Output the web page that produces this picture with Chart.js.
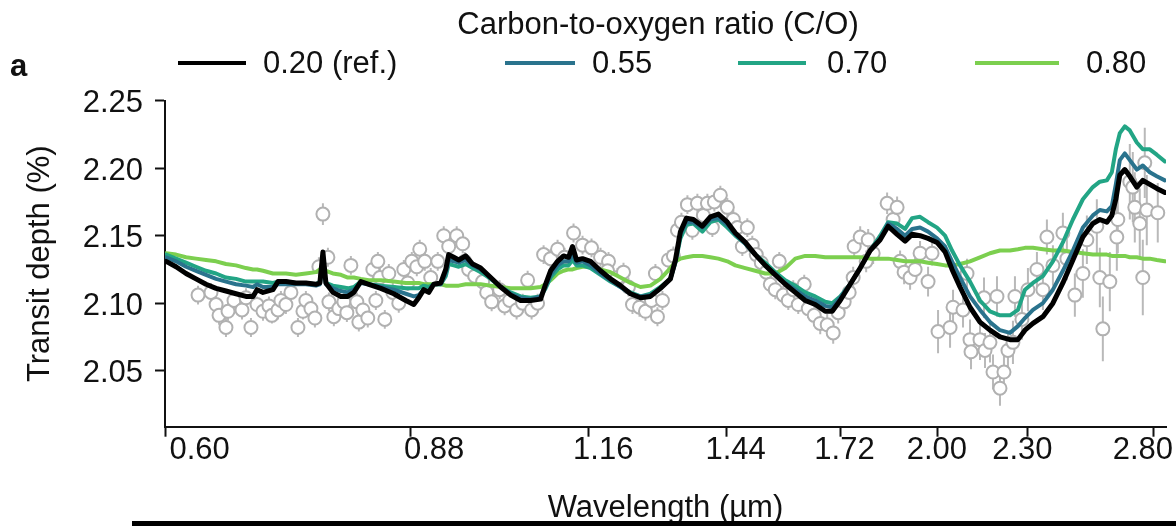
<!DOCTYPE html>
<html>
<head>
<meta charset="utf-8">
<script src="https://cdn.jsdelivr.net/npm/chart.js@4.4.1/dist/chart.umd.min.js"></script>
<style>
  body { margin: 0; background: #fff; font-family: "Liberation Sans", Arial, sans-serif; color: #111; }
  #wrap { position: relative; width: 1176px; height: 526px; overflow: hidden; }
  #myChart { position: absolute; left: 0; top: 0; }
  .legend-title { position: absolute; left: 448px; top: 8px; width: 420px; text-align: center; font-size: 31px; line-height: 31px; white-space: nowrap; }
  .legend-item { position: absolute; top: 47px; height: 31px; display: flex; align-items: center; font-size: 31px; line-height: 31px; white-space: nowrap; }
  .legend-line { display: inline-block; height: 4px; }
  .panel-label { position: absolute; left: 10px; top: 50px; font-size: 31px; line-height: 31px; font-weight: bold; }
  .bottom-bar { position: absolute; left: 132px; top: 521px; width: 1044px; height: 5px; background: #000; }
  .x-axis-line { position: absolute; background: #111; height: 2px; }
</style>
</head>
<body>
<div id="wrap">
  <canvas id="myChart" width="1176" height="526"></canvas>
  <div class="legend-title">Carbon-to-oxygen ratio (C/O)</div>
  <div id="legend"></div>
  <div class="panel-label">a</div>
  <div class="bottom-bar"></div>
</div>
<script>
// model wavelength grid (um), shared by the four C/O models
const modelWave = [
  0.6010, 0.6104, 0.6200, 0.6297, 0.6396, 0.6497, 0.6598, 0.6702, 0.6807,
  0.6882, 0.6925, 0.6990, 0.7099, 0.7155, 0.7244, 0.7358, 0.7473, 0.7591, 0.7638, 0.7674, 0.7710, 0.7794, 0.7892, 0.7978, 0.8053, 0.8141, 0.8243, 0.8399, 0.8570, 0.8732, 0.8841, 0.8910, 0.8980, 0.9050, 0.9121, 0.9221,
  0.9293, 0.9336, 0.9409, 0.9483, 0.9586, 0.9691, 0.9813, 0.9967, 1.0123, 1.0282, 1.0443, 1.0607, 1.0773, 1.0857, 1.0942, 1.1062, 1.1166, 1.1253, 1.1323, 1.1394, 1.1501, 1.1645, 1.1828,
  1.2013, 1.2202, 1.2393, 1.2587, 1.2785, 1.2985, 1.3189,
  1.3292, 1.3396, 1.3521, 1.3670, 1.3862, 1.4036, 1.4212, 1.4412, 1.4593,
  1.4822, 1.5054, 1.5290, 1.5530, 1.5774, 1.6021, 1.6272, 1.6527, 1.6787, 1.6971,
  1.7183, 1.7453, 1.7727, 1.8005, 1.8287, 1.8516, 1.8777, 1.9012, 1.9221, 1.9461,
  1.9705, 1.9983, 2.0234, 2.0455, 2.0711, 2.1036, 2.1366, 2.1701, 2.2042, 2.2387,
  2.2668, 2.2916, 2.3203, 2.3567, 2.3937, 2.4312, 2.4694, 2.5081, 2.5474, 2.5753,
  2.6036, 2.6239, 2.6403, 2.6568, 2.6775, 2.6984, 2.7280, 2.7536, 2.7837, 2.8142, 2.8500
];

// C/O = 0.20 (reference model)
const depthCO020 = [
  2.131, 2.127, 2.122, 2.118, 2.114, 2.111, 2.109, 2.107, 2.105,
  2.105, 2.110, 2.108, 2.110, 2.116, 2.116, 2.115, 2.115, 2.114, 2.115, 2.138, 2.115, 2.108, 2.105, 2.105, 2.108, 2.116, 2.114, 2.111, 2.107, 2.102, 2.099, 2.104, 2.110, 2.108, 2.114, 2.115,
  2.125, 2.136, 2.134, 2.132, 2.135, 2.129, 2.126, 2.119, 2.112, 2.106, 2.102, 2.102, 2.103, 2.114, 2.124, 2.131, 2.135, 2.134, 2.142, 2.132, 2.133, 2.131, 2.124,
  2.118, 2.113, 2.107, 2.104, 2.105, 2.111, 2.118,
  2.132, 2.153, 2.163, 2.162, 2.157, 2.164, 2.166, 2.160, 2.152,
  2.145, 2.136, 2.128, 2.121, 2.114, 2.108, 2.102, 2.099, 2.094, 2.094,
  2.102, 2.114, 2.126, 2.139, 2.147, 2.157, 2.151, 2.146, 2.151, 2.150,
  2.148, 2.145, 2.138, 2.125, 2.112, 2.097, 2.086, 2.080, 2.075, 2.073,
  2.073, 2.080, 2.085, 2.090, 2.100, 2.115, 2.132, 2.149, 2.159, 2.162,
  2.160, 2.165, 2.177, 2.195, 2.199, 2.194, 2.186, 2.191, 2.188, 2.185, 2.182
];

// C/O = 0.55
const depthCO055 = [
  2.134, 2.131, 2.127, 2.124, 2.121, 2.118, 2.116, 2.114, 2.113,
  2.112, 2.114, 2.112, 2.112, 2.114, 2.114, 2.114, 2.114, 2.113, 2.114, 2.131, 2.114, 2.111, 2.109, 2.108, 2.110, 2.115, 2.114, 2.112, 2.110, 2.107, 2.105, 2.106, 2.110, 2.109, 2.114, 2.114,
  2.122, 2.132, 2.131, 2.130, 2.132, 2.128, 2.125, 2.119, 2.112, 2.107, 2.104, 2.103, 2.105, 2.112, 2.121, 2.128, 2.131, 2.131, 2.136, 2.130, 2.131, 2.128, 2.122,
  2.117, 2.112, 2.107, 2.105, 2.106, 2.111, 2.118,
  2.131, 2.151, 2.160, 2.160, 2.156, 2.162, 2.163, 2.158, 2.151,
  2.144, 2.136, 2.128, 2.121, 2.115, 2.110, 2.105, 2.102, 2.098, 2.097,
  2.104, 2.114, 2.126, 2.139, 2.148, 2.159, 2.155, 2.150, 2.155, 2.156,
  2.153, 2.148, 2.142, 2.131, 2.119, 2.105, 2.095, 2.086, 2.080, 2.078,
  2.083, 2.089, 2.095, 2.100, 2.110, 2.124, 2.139, 2.156, 2.165, 2.169,
  2.168, 2.172, 2.188, 2.206, 2.211, 2.206, 2.199, 2.202, 2.197, 2.194, 2.191
];

// C/O = 0.70
const depthCO070 = [
  2.136, 2.133, 2.130, 2.127, 2.124, 2.122, 2.119, 2.118, 2.116,
  2.116, 2.116, 2.116, 2.115, 2.116, 2.116, 2.115, 2.115, 2.114, 2.116, 2.128, 2.115, 2.113, 2.112, 2.111, 2.112, 2.116, 2.114, 2.113, 2.112, 2.111, 2.111, 2.111, 2.113, 2.112, 2.114, 2.114,
  2.120, 2.129, 2.128, 2.127, 2.129, 2.126, 2.123, 2.118, 2.112, 2.108, 2.105, 2.104, 2.105, 2.111, 2.119, 2.125, 2.128, 2.128, 2.132, 2.128, 2.128, 2.126, 2.121,
  2.116, 2.112, 2.108, 2.105, 2.107, 2.112, 2.118,
  2.130, 2.148, 2.158, 2.159, 2.153, 2.160, 2.162, 2.156, 2.150,
  2.144, 2.136, 2.130, 2.123, 2.117, 2.113, 2.108, 2.105, 2.101, 2.100,
  2.105, 2.114, 2.126, 2.139, 2.150, 2.160, 2.159, 2.155, 2.163, 2.164,
  2.160, 2.156, 2.150, 2.139, 2.128, 2.116, 2.102, 2.094, 2.091, 2.091,
  2.095, 2.110, 2.115, 2.120, 2.131, 2.145, 2.162, 2.177, 2.186, 2.190,
  2.191, 2.197, 2.214, 2.226, 2.231, 2.228, 2.219, 2.214, 2.214, 2.210, 2.205
];

// C/O = 0.80
const depthCO080 = [
  2.137, 2.136, 2.134, 2.133, 2.132, 2.131, 2.129, 2.128, 2.126,
  2.125, 2.125, 2.124, 2.122, 2.122, 2.122, 2.121, 2.122, 2.123, 2.125, 2.125, 2.124, 2.122, 2.121, 2.119, 2.119, 2.118, 2.117, 2.117, 2.116, 2.115, 2.115, 2.115, 2.114, 2.114, 2.114, 2.114,
  2.113, 2.113, 2.113, 2.113, 2.114, 2.114, 2.114, 2.113, 2.112, 2.111, 2.111, 2.111, 2.112, 2.114, 2.117, 2.122, 2.124, 2.125, 2.125, 2.126, 2.127, 2.127, 2.125,
  2.123, 2.119, 2.115, 2.112, 2.113, 2.118, 2.126,
  2.131, 2.133, 2.134, 2.135, 2.135, 2.134, 2.133, 2.131, 2.128,
  2.126, 2.124, 2.122, 2.122, 2.126, 2.133, 2.135, 2.135, 2.134, 2.134,
  2.134, 2.134, 2.134, 2.133, 2.133, 2.133, 2.132, 2.131, 2.131, 2.131,
  2.130, 2.129, 2.128, 2.128, 2.129, 2.131, 2.134, 2.137, 2.139, 2.139,
  2.140, 2.141, 2.141, 2.140, 2.139, 2.139, 2.138, 2.137, 2.136, 2.136,
  2.136, 2.135, 2.135, 2.135, 2.135, 2.134, 2.134, 2.133, 2.133, 2.132, 2.131
];

// observed spectrum: wavelength (um), transit depth (%), 1-sigma error (%)
const obsWave = [
  0.6317, 0.6446, 0.6497, 0.6527, 0.6598, 0.6619, 0.6681, 0.6765, 0.6807, 0.6860,
  0.6925, 0.6990, 0.7055, 0.7088, 0.7155, 0.7188, 0.7244, 0.7301, 0.7381, 0.7439,
  0.7473, 0.7532, 0.7579, 0.7626, 0.7674, 0.7734, 0.7746, 0.7806, 0.7867, 0.7929,
  0.7966, 0.8016, 0.8091, 0.8116, 0.8167, 0.8230, 0.8295, 0.8334, 0.8360, 0.8386,
  0.8451, 0.8504, 0.8557, 0.8637, 0.8705, 0.8759, 0.8814, 0.8883, 0.8924, 0.8994,
  0.9078, 0.9178, 0.9264, 0.9336, 0.9453, 0.9542, 0.9572, 0.9631, 0.9722, 0.9843,
  0.9905, 0.9982, 1.0107, 1.0186, 1.0266, 1.0378, 1.0476, 1.0558, 1.0623, 1.0723,
  1.0824, 1.0942, 1.1062, 1.1183, 1.1341, 1.1501, 1.1663, 1.1828, 1.1976, 1.1957,
  1.2145, 1.2259, 1.2354, 1.2432, 1.2568, 1.2686, 1.2805, 1.2925, 1.2884, 1.3026,
  1.3148, 1.3251, 1.3333, 1.3417, 1.3543, 1.3648, 1.3755, 1.3884, 1.3971, 1.4080,
  1.4124, 1.4256, 1.4412, 1.4547, 1.4638, 1.4753, 1.4868, 1.4984, 1.5077, 1.5195,
  1.5314, 1.5410, 1.5530, 1.5627, 1.5725, 1.5848, 1.5971, 1.6096, 1.6247, 1.6349,
  1.6502, 1.6657, 1.6839, 1.6997, 1.7130, 1.7291, 1.7426, 1.7534, 1.7562, 1.7727,
  1.7893, 1.7949, 1.8089, 1.8487, 1.8661, 1.8777, 1.8865, 1.8983, 1.9161, 1.9311,
  1.9461, 1.9705, 1.9828, 2.0014, 2.0392, 2.0487, 2.0808, 2.0938, 2.1036, 2.1069,
  2.1366, 2.1500, 2.1533, 2.1701, 2.1803, 2.1939, 2.2042, 2.2179, 2.2318, 2.2492,
  2.2562, 2.2809, 2.3023, 2.3348, 2.3567, 2.3714, 2.3937, 2.4312, 2.4464, 2.4770,
  2.5081, 2.5238, 2.5633, 2.5753, 2.5874, 2.6157, 2.6444, 2.6485, 2.6984, 2.7195,
  2.7407, 2.7536, 2.7708, 2.7621, 2.7110, 2.8186
];
const obsDepth = [
  2.106, 2.108, 2.099, 2.091, 2.082, 2.094, 2.102, 2.095, 2.104, 2.082,
  2.099, 2.094, 2.098, 2.091, 2.095, 2.102, 2.099, 2.108, 2.082, 2.094,
  2.102, 2.096, 2.089, 2.127, 2.166, 2.134, 2.101, 2.090, 2.096, 2.101,
  2.093, 2.128, 2.101, 2.086, 2.095, 2.089, 2.125, 2.102, 2.131, 2.119,
  2.088, 2.122, 2.108, 2.100, 2.125, 2.115, 2.131, 2.127, 2.140, 2.131,
  2.119, 2.131, 2.150, 2.142, 2.150, 2.144, 2.131, 2.125, 2.120, 2.116,
  2.108, 2.101, 2.110, 2.098, 2.102, 2.095, 2.100, 2.117, 2.095, 2.100,
  2.136, 2.133, 2.140, 2.134, 2.152, 2.143, 2.141, 2.134, 2.131, 2.124,
  2.119, 2.123, 2.112, 2.099, 2.097, 2.094, 2.102, 2.090, 2.122, 2.102,
  2.132, 2.135, 2.154, 2.160, 2.173, 2.154, 2.174, 2.165, 2.174, 2.156,
  2.175, 2.180, 2.171, 2.162, 2.156, 2.142, 2.156, 2.143, 2.136, 2.130,
  2.123, 2.114, 2.110, 2.131, 2.106, 2.102, 2.110, 2.099, 2.114, 2.096,
  2.091, 2.085, 2.084, 2.078, 2.093, 2.101, 2.108, 2.119, 2.142, 2.149,
  2.131, 2.147, 2.137, 2.174, 2.162, 2.171, 2.131, 2.123, 2.119, 2.125,
  2.137, 2.116, 2.137, 2.079, 2.082, 2.097, 2.095, 2.122, 2.073, 2.064,
  2.073, 2.104, 2.065, 2.071, 2.049, 2.105, 2.037, 2.049, 2.065, 2.071,
  2.105, 2.088, 2.110, 2.125, 2.110, 2.149, 2.128, 2.152, 2.133, 2.106,
  2.122, 2.147, 2.157, 2.119, 2.081, 2.116, 2.149, 2.162, 2.190, 2.171,
  2.159, 2.119, 2.169, 2.204, 2.186, 2.167
];
const obsErr = [
  0.007, 0.007, 0.006, 0.007, 0.007, 0.007, 0.006, 0.007, 0.007, 0.007,
  0.006, 0.007, 0.007, 0.006, 0.007, 0.007, 0.007, 0.007, 0.007, 0.006,
  0.007, 0.007, 0.007, 0.007, 0.008, 0.007, 0.007, 0.007, 0.006, 0.007,
  0.007, 0.007, 0.007, 0.007, 0.007, 0.007, 0.007, 0.007, 0.007, 0.007,
  0.007, 0.007, 0.007, 0.007, 0.007, 0.006, 0.007, 0.007, 0.007, 0.007,
  0.007, 0.007, 0.007, 0.007, 0.007, 0.007, 0.007, 0.007, 0.007, 0.007,
  0.007, 0.007, 0.007, 0.007, 0.007, 0.007, 0.007, 0.007, 0.007, 0.007,
  0.007, 0.007, 0.007, 0.007, 0.007, 0.007, 0.007, 0.007, 0.007, 0.007,
  0.007, 0.007, 0.007, 0.007, 0.007, 0.007, 0.007, 0.007, 0.007, 0.007,
  0.007, 0.007, 0.007, 0.007, 0.007, 0.007, 0.007, 0.007, 0.007, 0.007,
  0.007, 0.007, 0.007, 0.007, 0.007, 0.007, 0.007, 0.007, 0.007, 0.007,
  0.007, 0.007, 0.007, 0.007, 0.007, 0.007, 0.007, 0.007, 0.007, 0.007,
  0.008, 0.008, 0.008, 0.008, 0.008, 0.008, 0.008, 0.008, 0.008, 0.008,
  0.008, 0.008, 0.008, 0.008, 0.008, 0.008, 0.008, 0.009, 0.009, 0.009,
  0.009, 0.011, 0.009, 0.016, 0.015, 0.013, 0.013, 0.011, 0.015, 0.013,
  0.015, 0.015, 0.013, 0.015, 0.013, 0.015, 0.013, 0.013, 0.013, 0.016,
  0.015, 0.015, 0.016, 0.013, 0.015, 0.013, 0.015, 0.015, 0.016, 0.016,
  0.018, 0.018, 0.020, 0.022, 0.024, 0.022, 0.025, 0.025, 0.028, 0.026,
  0.026, 0.028, 0.026, 0.026, 0.026, 0.022
];

// axis ticks and legend labels
const xTickValues = [0.60, 0.88, 1.16, 1.44, 1.72, 2.00, 2.30, 2.80];
const yTickValues = [2.05, 2.10, 2.15, 2.20, 2.25];
const seriesLabels = ["0.20 (ref.)", "0.55", "0.70", "0.80"];
const seriesColors = ["#000000", "#2a738d", "#22a585", "#7ccf4f"];
// legend placement: left edge, swatch length, gap to text
const legendLeft = [178, 505, 738, 975];
const legendSwatch = [68, 70, 68, 84];
const legendGap = [17, 17, 21, 27];

Chart.defaults.font.family = '"Liberation Sans", Arial, sans-serif';
Chart.defaults.color = "#111";

function toPoints(xs, ys) {
  return xs.map((x, i) => ({ x: x, y: ys[i] }));
}

// simple html legend, built from the series arrays
const legendBox = document.getElementById("legend");
for (let i = 0; i < seriesLabels.length; i++) {
  const item = document.createElement("div");
  item.className = "legend-item";
  item.style.left = legendLeft[i] + "px";
  const swatch = document.createElement("span");
  swatch.className = "legend-line";
  swatch.style.background = seriesColors[i];
  swatch.style.width = legendSwatch[i] + "px";
  swatch.style.marginRight = legendGap[i] + "px";
  item.appendChild(swatch);
  item.appendChild(document.createTextNode(seriesLabels[i]));
  legendBox.appendChild(item);
}

// vertical error bars under the open circles
const errorBars = {
  id: "errorBars",
  beforeDatasetsDraw(chart) {
    const { ctx, chartArea, scales } = chart;
    ctx.save();
    ctx.beginPath();
    ctx.rect(chartArea.left, chartArea.top, chartArea.width, chartArea.height);
    ctx.clip();
    ctx.strokeStyle = "#b9b9b9";
    ctx.lineWidth = 2;
    for (let i = 0; i < obsWave.length; i++) {
      const px = scales.x.getPixelForValue(obsWave[i]);
      ctx.beginPath();
      ctx.moveTo(px, scales.y.getPixelForValue(obsDepth[i] - obsErr[i]));
      ctx.lineTo(px, scales.y.getPixelForValue(obsDepth[i] + obsErr[i]));
      ctx.stroke();
    }
    ctx.restore();
  },
};

function lineSet(i, ys, width) {
  return {
    label: seriesLabels[i],
    data: toPoints(modelWave, ys),
    borderColor: seriesColors[i],
    backgroundColor: seriesColors[i],
    borderWidth: width,
    pointRadius: 0,
    tension: 0,
    borderJoinStyle: "round",
    borderCapStyle: "round",
  };
}

const data = {
  datasets: [
    // first dataset is drawn on top
    lineSet(0, depthCO020, 5),
    lineSet(1, depthCO055, 4),
    lineSet(2, depthCO070, 4),
    lineSet(3, depthCO080, 4),
    {
      label: "Data",
      data: toPoints(obsWave, obsDepth),
      showLine: false,
      pointRadius: 6.5,
      pointBorderWidth: 2,
      pointBorderColor: "#b1b1b1",
      pointBackgroundColor: "#ffffff",
    },
  ],
};

const config = {
  type: "line",
  data,
  plugins: [errorBars],
  options: {
    responsive: false,
    animation: false,
    layout: { padding: { left: 22, top: 100.7, right: 10, bottom: 0 } },
    plugins: { legend: { display: false }, tooltip: { enabled: false } },
    scales: {
      // data axis: true log positions, tick marks only
      x: {
        type: "logarithmic",
        position: "bottom",
        weight: 0,
        min: 0.6,
        max: 2.855,
        ticks: { display: false },
        grid: { display: true, drawOnChartArea: false, drawTicks: true, tickLength: 10, tickWidth: 2, tickColor: "#111" },
        border: { display: true, color: "#111", width: 2 },
        afterBuildTicks: (s) => { s.ticks = xTickValues.map((v) => ({ value: v })); },
        afterFit: (s) => { s.height = 10; s.paddingLeft = 0; s.paddingRight = 0; },
      },
      // label row, placed where the figure prints its tick numbers
      xLab: {
        type: "logarithmic",
        position: "bottom",
        weight: 1,
        min: 0.567,
        max: 2.908,
        grid: { display: false, drawTicks: false },
        border: { display: false },
        ticks: {
          padding: -2,
          autoSkip: false,
          maxRotation: 0,
          color: "#111",
          font: { size: 31, lineHeight: 1 },
          callback: (v) => Number(v).toFixed(2),
        },
        title: { display: true, text: "Wavelength (µm)", color: "#111", font: { size: 31, lineHeight: 1 }, padding: { top: 0, bottom: 2 } },
        afterBuildTicks: (s) => { s.ticks = xTickValues.map((v) => ({ value: v })); },
        afterFit: (s) => { s.height = 89.3; s.paddingLeft = 0; s.paddingRight = 0; },
      },
      y: {
        min: 2.0085,
        max: 2.25,
        ticks: {
          padding: 12,
          labelOffset: 3,
          color: "#111",
          font: { size: 31, lineHeight: 1 },
          callback: (v) => Number(v).toFixed(2),
        },
        grid: { display: true, drawOnChartArea: false, drawTicks: true, tickLength: 10, tickWidth: 2, tickColor: "#111" },
        border: { display: true, color: "#111", width: 2 },
        title: { display: true, text: "Transit depth (%)", color: "#111", font: { size: 31, lineHeight: 1.2 }, padding: { top: 0, bottom: 0 } },
        afterBuildTicks: (s) => { s.ticks = yTickValues.map((v) => ({ value: v })); },
        afterFit: (s) => { s.width = 143; },
      },
    },
  },
};

let myChart = new Chart(document.getElementById("myChart"), config);

// FIXME: the canvas border of the log x axis does not show, so lay the
// bottom axis line over the chart from the computed chart area
const area = myChart.chartArea;
const axisDiv = document.createElement("div");
axisDiv.className = "x-axis-line";
axisDiv.style.left = Math.round(area.left - 1) + "px";
axisDiv.style.top = Math.round(area.bottom - 1) + "px";
axisDiv.style.width = Math.round(area.right - area.left + 1) + "px";
document.getElementById("wrap").appendChild(axisDiv);
</script>
</body>
</html>
